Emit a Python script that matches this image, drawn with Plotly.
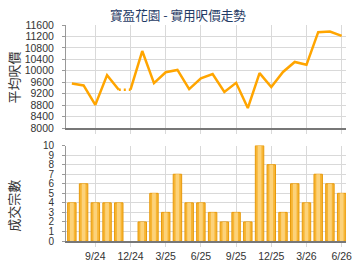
import plotly.graph_objects as go

months = ["7/24", "8/24", "9/24", "10/24", "11/24", "12/24",
          "1/25", "2/25", "3/25", "4/25", "5/25", "6/25",
          "7/25", "8/25", "9/25", "10/25", "11/25", "12/25",
          "1/26", "2/26", "3/26", "4/26", "5/26", "6/26"]
avg_price = [9560, 9490, 8810, 9850, 9340, 9340,
             10690, 9570, 9950, 10030, 9360, 9740,
             9890, 9260, 9580, 8700, 9920, 9430,
             9960, 10310, 10210, 11350, 11370, 11220]
deals = [4, 6, 4, 4, 4, 0,
         2, 5, 3, 7, 4, 4,
         3, 2, 3, 2, 10, 8,
         3, 6, 4, 7, 6, 5]
tick_labels = ["9/24", "12/24", "3/25", "6/25", "9/25", "12/25", "3/26", "6/26"]
price_ticks = list(range(8000, 11601, 400))
deal_ticks = list(range(0, 11))
gap_after = 4  # dotted segment between 11/24 and 12/24 (no transactions)

idx = list(range(len(months)))
tickvals = [months.index(t) for t in tick_labels]
bar_vals = [v if v > 0 else None for v in deals]

fig = go.Figure()
line_style = dict(color="#FFA500", width=2.5)
fig.add_trace(go.Scatter(x=idx[:gap_after + 1], y=avg_price[:gap_after + 1], mode="lines",
                         line=line_style, xaxis="x", yaxis="y", hoverinfo="skip"))
fig.add_trace(go.Scatter(x=idx[gap_after + 1:], y=avg_price[gap_after + 1:], mode="lines",
                         line=line_style, xaxis="x", yaxis="y", hoverinfo="skip"))
fig.add_trace(go.Scatter(x=idx[gap_after:gap_after + 2], y=avg_price[gap_after:gap_after + 2],
                         mode="lines", line=dict(color="#FFA500", width=2.5, dash="2px,3px"),
                         xaxis="x", yaxis="y", hoverinfo="skip"))
fig.add_trace(go.Bar(x=idx, y=bar_vals, width=0.72,
                     marker=dict(color="#F7B534", line=dict(color="#E89A0A", width=1)),
                     xaxis="x2", yaxis="y2", hoverinfo="skip"))
fig.add_trace(go.Bar(x=idx, y=bar_vals, width=0.32,
                     marker=dict(color="#FCD27A", line=dict(width=0)),
                     xaxis="x2", yaxis="y2", hoverinfo="skip"))

W, H = 360, 270
L, R, T, B = 66, 8, 25, 26
ph = H - T - B
def py(y):
    return (H - B - y) / ph

xrange = [-0.5, 23.37]
grid = "#D9D9D9"
tickfont = dict(family="Liberation Sans, Arial, sans-serif", size=10.5, color="#333333")
tickfont_small = dict(tickfont, size=10)
common_x = dict(range=xrange, tickvals=tickvals, showgrid=True, gridcolor=grid, gridwidth=1,
                zeroline=False, showline=True, linecolor="#777777", linewidth=2,
                ticks="outside", ticklen=4, tickcolor=grid, fixedrange=True)
fig.update_layout(
    width=W, height=H,
    margin=dict(l=L, r=R, t=T, b=B),
    paper_bgcolor="white", plot_bgcolor="white",
    showlegend=False, barmode="overlay",
    xaxis=dict(common_x, domain=[0, 1], anchor="y", showticklabels=False),
    yaxis=dict(domain=[py(129.5), 1], range=[8000, 11600], tickvals=price_ticks,
               ticktext=[str(v) for v in price_ticks],
               showgrid=True, gridcolor=grid, zeroline=False, showline=True,
               linecolor="#999999", linewidth=1, ticks="outside", ticklen=3, tickcolor="#999999",
               tickfont=tickfont, ticklabelstandoff=6, anchor="x"),
    xaxis2=dict(common_x, domain=[0, 1], anchor="y2", ticktext=tick_labels, tickfont=tickfont),
    yaxis2=dict(domain=[0, py(147.3)], range=[0, 10], tickvals=deal_ticks,
                ticktext=[str(v) for v in deal_ticks],
                showgrid=True, gridcolor=grid, zeroline=False, showline=True,
                linecolor="#999999", linewidth=1, ticks="outside", ticklen=3, tickcolor="#999999",
                tickfont=tickfont_small, ticklabelstandoff=6, anchor="x2"),
    font=dict(family="Noto Sans CJK TC, sans-serif"),
)

cjk = "Noto Sans CJK TC, sans-serif"
fig.add_annotation(text="寶盈花園 - 實用呎價走勢", xref="paper", yref="paper",
                   x=(180 - L) / (W - L - R), y=py(14), showarrow=False,
                   font=dict(family=cjk, size=12.6, color="#1F3B66"), xanchor="center", yanchor="middle")
fig.add_annotation(text="平均呎價", xref="paper", yref="paper", textangle=-90,
                   x=(12 - L) / (W - L - R), y=py(78), showarrow=False,
                   font=dict(family=cjk, size=13, color="#333333"), xanchor="center", yanchor="middle")
fig.add_annotation(text="成交宗數", xref="paper", yref="paper", textangle=-90,
                   x=(12 - L) / (W - L - R), y=py(208), showarrow=False,
                   font=dict(family=cjk, size=13, color="#333333"), xanchor="center", yanchor="middle")

fig.write_html("out.html", config={"displayModeBar": False})
